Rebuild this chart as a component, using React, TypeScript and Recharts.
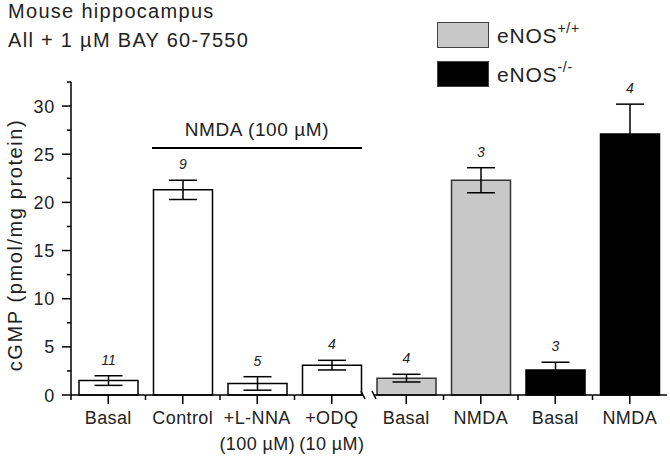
import React from 'react';
import { BarChart, Bar, XAxis, YAxis, Cell, ErrorBar, LabelList, Legend } from 'recharts';

// groups: 4 wild-type slices (white) then eNOS+/+ and eNOS-/- (grey / black)
const categories = ['Basal', 'Control', '+L-NNA', '+ODQ', 'Basal', 'NMDA', 'Basal', 'NMDA'];
const subLabels = ['', '', '(100 \u00b5M)', '(10 \u00b5M)', '', '', '', ''];
const values = [1.5, 21.3, 1.2, 3.1, 1.75, 22.3, 2.6, 27.1];
const errors = [0.5, 1.0, 0.7, 0.5, 0.4, 1.3, 0.8, 3.1];
const counts = [11, 9, 5, 4, 4, 3, 3, 4];
const fills = ['#ffffff', '#ffffff', '#ffffff', '#ffffff', '#c8c8c8', '#c8c8c8', '#000000', '#000000'];
const yTicks = [0, 2.5, 5, 7.5, 10, 12.5, 15, 17.5, 20, 22.5, 25, 27.5, 30, 32.5];
const legendItems = [
  { label: 'eNOS', sup: '+/+', fill: '#c8c8c8' },
  { label: 'eNOS', sup: '-/-', fill: '#000000' },
];

const data = categories.map((name, i) => ({
  name,
  sub: subLabels[i],
  value: values[i],
  err: errors[i],
  n: counts[i],
}));

const FONT = 'Arial, "Liberation Sans", Helvetica, sans-serif';
const W = 670;
const H = 458;
const X_AXIS_H = 30;
const margin = { top: 82, right: 3, bottom: 63 - X_AXIS_H, left: 0 };
const Y_AXIS_W = 71;
const band = (W - margin.left - margin.right - Y_AXIS_W) / categories.length;

const YTick = (props: any) => {
  const { x, y, payload } = props;
  const major = payload.value % 5 === 0;
  return (
    <g>
      <line x1={x - (major ? 9 : 4)} x2={x} y1={y} y2={y} stroke="#000" strokeWidth={1.5} />
      {major && (
        <text x={x - 16} y={y} dy={6.5} textAnchor="end" fontSize={18} letterSpacing={0.8} fill="#222" fontFamily={FONT}>
          {payload.value}
        </text>
      )}
    </g>
  );
};

const XTick = (props: any) => {
  const { x, y, index } = props;
  const d = data[index];
  const left = x - band / 2;
  const right = x + band / 2;
  // axis break between the two experiment groups
  const segL = index === 4 ? left + 5 : left;
  const segR = index === 3 ? right - 6 : right;
  return (
    <g>
      <line x1={segL} x2={segR} y1={y} y2={y} stroke="#000" strokeWidth={1.5} />
      {index === 3 && <line x1={segR - 2} y1={y - 4} x2={segR + 2} y2={y + 4} stroke="#000" strokeWidth={1.5} />}
      {index === 4 && <line x1={segL - 2} y1={y - 4} x2={segL + 2} y2={y + 4} stroke="#000" strokeWidth={1.5} />}
      <line x1={x} x2={x} y1={y} y2={y + 9} stroke="#000" strokeWidth={1.5} />
      {index !== 4 && <line x1={left} x2={left} y1={y} y2={y + 5} stroke="#000" strokeWidth={1.5} />}
      <text x={x} y={y + 29} textAnchor="middle" fontSize={18} letterSpacing={0.4} fill="#222" fontFamily={FONT}>
        {d.name}
      </text>
      {d.sub && (
        <text x={x} y={y + 55} textAnchor="middle" fontSize={18} letterSpacing={0.4} fill="#222" fontFamily={FONT}>
          {d.sub}
        </text>
      )}
    </g>
  );
};

const CountLabel = (props: any) => {
  const { x, y, width, height, value, index } = props;
  const perUnit = height / values[index];
  const top = y - errors[index] * perUnit;
  return (
    <text x={x + width / 2} y={top - 11} textAnchor="middle" fontSize={14} fontStyle="italic" fill="#222" fontFamily={FONT}>
      {value}
    </text>
  );
};

const YLabel = () => (
  <text
    transform="translate(22, 245) rotate(-90)"
    textAnchor="middle"
    fontSize={20}
    letterSpacing={1.6}
    fill="#222"
    fontFamily={FONT}
  >
    cGMP (pmol/mg protein)
  </text>
);

const LegendBox = () => (
  <div style={{ fontFamily: FONT }}>
    {legendItems.map((item, i) => (
      <div key={i} style={{ display: 'flex', alignItems: 'center', height: 26, marginBottom: 13 }}>
        <div
          style={{
            width: 50,
            height: 24,
            background: item.fill,
            border: '1.5px solid #444',
            marginRight: 8,
          }}
        />
        <span style={{ fontSize: 21, letterSpacing: 0.8, color: '#222' }}>
          {item.label}
          <sup style={{ fontSize: 14, position: 'relative', top: -2 }}>{item.sup}</sup>
        </span>
      </div>
    ))}
  </div>
);

export default function App() {
  return (
    <div style={{ position: 'absolute', left: 0, top: 0, width: W, height: H, background: '#fff', fontFamily: FONT }}>
      <div style={{ position: 'absolute', left: 8, top: -1, fontSize: 20, letterSpacing: 1.3, color: '#222', lineHeight: '24px' }}>
        Mouse hippocampus
      </div>
      <div style={{ position: 'absolute', left: 8, top: 28, fontSize: 20, letterSpacing: 1.3, color: '#222', lineHeight: '24px' }}>
        All + 1 {'\u00b5'}M BAY 60-7550
      </div>
      <div
        style={{
          position: 'absolute',
          left: 152,
          top: 118,
          width: 210,
          borderBottom: '2px solid #000',
          textAlign: 'center',
          fontSize: 19,
          letterSpacing: 0.6,
          color: '#222',
          paddingBottom: 5,
          lineHeight: '24px',
        }}
      >
        NMDA (100 {'\u00b5'}M)
      </div>
      <BarChart width={W} height={H} data={data} margin={margin} barCategoryGap={0}>
        <XAxis
          dataKey="name"
          height={X_AXIS_H}
          axisLine={false}
          tickLine={false}
          tickSize={0}
          tickMargin={0}
          interval={0}
          tick={<XTick />}
        />
        <YAxis
          type="number"
          domain={[0, 32.5]}
          ticks={yTicks}
          interval={0}
          width={Y_AXIS_W}
          axisLine={{ stroke: '#000', strokeWidth: 1.5 }}
          tickLine={false}
          tickSize={0}
          tickMargin={0}
          tick={<YTick />}
          label={<YLabel />}
        />
        <Legend
          layout="vertical"
          align="center"
          verticalAlign="middle"
          content={<LegendBox />}
          wrapperStyle={{ position: 'absolute', left: 437, top: 22, width: 200 }}
        />
        <Bar dataKey="value" barSize={59} stroke="#000" strokeWidth={1.5} isAnimationActive={false}>
          {data.map((d, i) => (
            <Cell key={i} fill={fills[i]} stroke={i >= 4 && i < 6 ? '#333' : '#000'} />
          ))}
          <ErrorBar dataKey="err" width={14} stroke="#000" strokeWidth={1.5} direction="y" />
          <LabelList dataKey="n" content={<CountLabel />} />
        </Bar>
      </BarChart>
    </div>
  );
}
